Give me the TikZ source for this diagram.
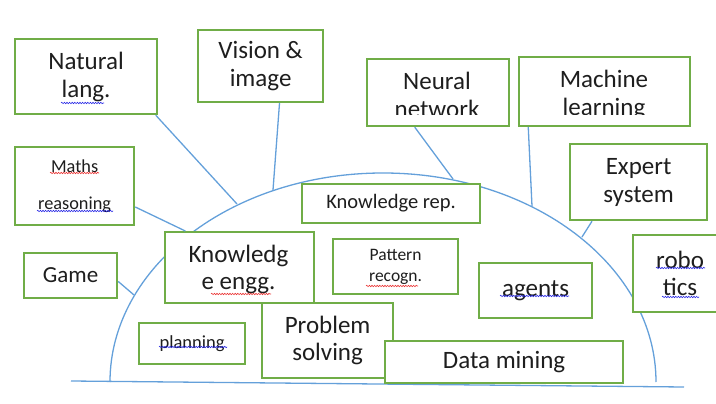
\documentclass[tikz,border=0pt]{standalone}
\usepackage{fontspec}
\setmainfont{Carlito}
\usetikzlibrary{decorations.pathmorphing}
\definecolor{boxgreen}{RGB}{112,173,71}
\definecolor{lineblue}{RGB}{100,160,218}
\definecolor{spellblue}{RGB}{40,40,230}
\definecolor{spellred}{RGB}{235,50,50}
\definecolor{txt}{RGB}{30,30,30}
\begin{document}
\begin{tikzpicture}[x=1pt,y=-1pt,
  box/.style={draw=boxgreen, line width=2.2pt, fill=white, inner sep=0pt, anchor=north west, text=txt, align=center},
  txtonly/.style={inner sep=0pt, text=txt, align=center},
  big/.style={font=\fontsize{25}{28}\selectfont},
  conn/.style={draw=lineblue, line width=1.3pt},
  wavyB/.style={draw=spellblue, line width=0.6pt, decorate, decoration={snake, amplitude=0.7pt, segment length=2.6pt}},
  wavyR/.style={draw=spellred, line width=0.6pt, decorate, decoration={snake, amplitude=0.7pt, segment length=2.6pt}}]
\useasboundingbox (0,0) rectangle (716,404);

% arc points
\coordinate (arcL) at (110,382);
\coordinate (aNat) at (237,204);
\coordinate (aVis) at (273,190);
\coordinate (aNeu) at (453,179);
\coordinate (aMac) at (532,206);
\coordinate (aExp) at (582,237);
\coordinate (aGam) at (134,295);
\coordinate (bl1) at (71,381);
\coordinate (bl2) at (684,387);

% base line and arc
\draw[conn] (bl1) -- (bl2);
\draw[conn] (arcL) arc[start angle=180, end angle=0, x radius=273pt, y radius=209pt];

% outer boxes
\node[box, big, minimum width=142pt, minimum height=75pt] (nat) at (14,38) {Natural\\lang.};
\node[box, big, minimum width=125pt, minimum height=72pt] (vis) at (197,29) {Vision \&\\image};
\node[box, minimum width=142pt, minimum height=67pt] (neu) at (366,58) {};
\node[box, minimum width=171pt, minimum height=69pt] (mac) at (518,56) {};
\node[box, big, minimum width=137pt, minimum height=76pt] (exp) at (569,143) {Expert\\system};
\node[box, font=\fontsize{18.3}{37}\selectfont, minimum width=119pt, minimum height=78pt] (mat) at (14,146) {Maths\\reasoning};
\node[box, font=\fontsize{23}{28}\selectfont, minimum width=93pt, minimum height=45pt] (gam) at (23,252) {Game};

\begin{scope}
  \clip (367,59) rectangle (507,114.5);
  \node[txtonly, big] (neuT) at (437,95) {Neural\\network};
\end{scope}
\begin{scope}
  \clip (519,57) rectangle (688,114.5);
  \node[txtonly, big] (macT) at (604,95) {Machine\\learning};
\end{scope}

% connectors
\draw[conn] (nat.-29) -- (aNat);
\draw[conn] (vis.-63) -- (aVis);
\draw[conn] (neu.-124) -- (aNeu);
\draw[conn] (mac.-155) -- (aMac);
\draw[conn] (exp.-140) -- (aExp);
\draw[conn] (gam.-7) -- (aGam);

% inner boxes
\node[box, font=\fontsize{20.5}{24}\selectfont, minimum width=178pt, minimum height=39pt] (krep) at (301,183) {Knowledge rep.};
\node[box, minimum width=149pt, minimum height=71pt] (ken) at (164,231) {};
\node[txtonly, font=\fontsize{25}{27}\selectfont] (kenT) at (238.5,269) {Knowledg\\e engg.};
\draw[conn] (mat.-19) -- (ken.146);
\node[box, font=\fontsize{17.5}{21}\selectfont, minimum width=125pt, minimum height=55pt] (pat) at (332,238) {Pattern\\recogn.};
\node[box, big, minimum width=113pt, minimum height=55pt] (agt) at (478,262) {agents};
\node[box, font=\fontsize{25}{27}\selectfont, minimum width=94pt, minimum height=77pt] (rob) at (632,234) {robo\\tics};
\node[box, font=\fontsize{18.5}{21}\selectfont, minimum width=106pt, minimum height=41pt] (pla) at (138,322) {planning};
\node[box, font=\fontsize{25}{27}\selectfont, minimum width=131pt, minimum height=75pt] (pro) at (261,302) {Problem\\solving};
\node[box, big, minimum width=238pt, minimum height=42pt] (dat) at (384,340) {Data mining};

% spell-check underlines
\draw[wavyB] (61,103) -- (104,103);
\draw[wavyR] (50,173) -- (99,173);
\draw[wavyB] (37,211) -- (113,211);
\draw[wavyR] (211,294) -- (271,294);
\draw[wavyR] (366,286) -- (418,286);
\draw[wavyB] (500,296) -- (569,296);
\draw[wavyB] (656,268) -- (705,268);
\draw[wavyB] (662,297) -- (699,297);
\draw[wavyB] (159,347) -- (227,347);
\end{tikzpicture}
\end{document}
